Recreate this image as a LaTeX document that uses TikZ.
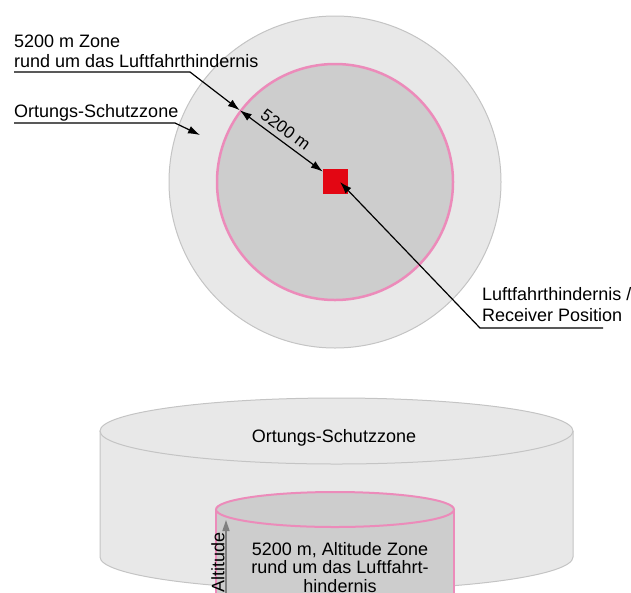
\documentclass[tikz,border=0pt]{standalone}
\usepackage{fontspec}
\setmainfont{Liberation Sans}
\usetikzlibrary{arrows.meta,calc}
\definecolor{zonefill}{RGB}{232,232,232}
\definecolor{zoneline}{RGB}{196,196,196}
\definecolor{innerfill}{RGB}{205,205,205}
\definecolor{pinkline}{RGB}{236,139,186}
\definecolor{obstred}{RGB}{227,6,19}
\definecolor{altgray}{RGB}{128,128,128}
\begin{document}
\begin{tikzpicture}[x=1pt,y=-1pt,
  font=\fontsize{18}{20}\selectfont,
  lbl/.style={inner sep=0pt, anchor=base west, align=left},
  lead/.style={line width=1.2pt, black},
  tipend/.style={-{Latex[length=12pt,width=8pt]}},
  tipboth/.style={{Latex[length=12pt,width=8pt]}-{Latex[length=12pt,width=8pt]}}]
\useasboundingbox (0,0) rectangle (631,592);
\clip (0,0) rectangle (631,592);

% ---------- top view ----------
\node[circle, draw=zoneline, fill=zonefill, line width=1pt, minimum size=332pt, inner sep=0pt] (outer) at (335,182) {};
\node[circle, draw=pinkline, fill=innerfill, line width=2.5pt, minimum size=236pt, inner sep=0pt] (inner) at (335,182) {};
\node[fill=obstred, minimum size=25pt, inner sep=0pt] (obst) at (335.5,181) {};

% label: 5200 m Zone
\node[lbl] (zonelbl) at (14,67) {5200 m Zone\\rund um das Luftfahrthindernis};
\coordinate (zoneu0) at (14,72);
\coordinate (zoneu1) at (190,72);
\draw[lead,tipend] (zoneu0) -- (zoneu1) -- (inner.143);

% dimension 5200 m
\draw[lead,tipboth] (inner.143) -- (obst)
  node[pos=0.47, sloped, above=5pt, inner sep=0pt, font=\fontsize{17}{20}\selectfont] (dimlbl) {5200 m};

% label: Ortungs-Schutzzone
\node[lbl] (ortlbl) at (14,117.5) {Ortungs-Schutzzone};
\coordinate (ortu0) at (14,123);
\coordinate (ortu1) at (175,123);
\coordinate (orttip) at (200,135);
\draw[lead,tipend] (ortu0) -- (ortu1) -- (orttip);

% label: Luftfahrthindernis / Receiver Position
\node[lbl, font=\fontsize{18}{21}\selectfont] (rxlbl) at (482,321) {Luftfahrthindernis /\\Receiver Position};
\coordinate (rxu0) at (603,328);
\coordinate (rxu1) at (480,328);
\coordinate (rxtip) at (340,182);
\draw[lead,tipend] (rxu0) -- (rxu1) -- (rxtip);

% ---------- side view ----------
\fill[zonefill] (100,431) -- (100,557)
  arc[start angle=180, end angle=360, x radius=236.5pt, y radius=33pt] -- (573,431) -- cycle;
\draw[zoneline, line width=1pt] (100,431) -- (100,557)
  arc[start angle=180, end angle=360, x radius=236.5pt, y radius=33pt] -- (573,431);
\filldraw[fill=zonefill, draw=zoneline, line width=1pt] (336.5,431) ellipse [x radius=236.5pt, y radius=33pt];
\node[anchor=base, inner sep=0pt] (cyltxt) at (334,442) {Ortungs-Schutzzone};

% inner cylinder
\fill[innerfill] (216,509.5) rectangle (454,610);
\draw[pinkline, line width=2pt] (216,610) -- (216,509.5);
\draw[pinkline, line width=2pt] (454,509.5) -- (454,610);
\filldraw[fill=innerfill, draw=pinkline, line width=2pt] (335,509.5) ellipse [x radius=119pt, y radius=17.5pt];

% altitude arrow
\coordinate (altbot) at (226,600);
\coordinate (alttop) at (226,520);
\draw[altgray, line width=1.5pt, -{Triangle[length=11pt,width=7pt]}] (altbot) -- (alttop);
\node[rotate=90, inner sep=0pt] (altlbl) at (218,562) {Altitude};

\node[align=center, anchor=base, inner sep=0pt, font=\fontsize{18}{18.5}\selectfont] (innertxt) at (340,592)
  {5200 m, Altitude Zone\\rund um das Luftfahrt-\\hindernis};
\end{tikzpicture}
\end{document}
